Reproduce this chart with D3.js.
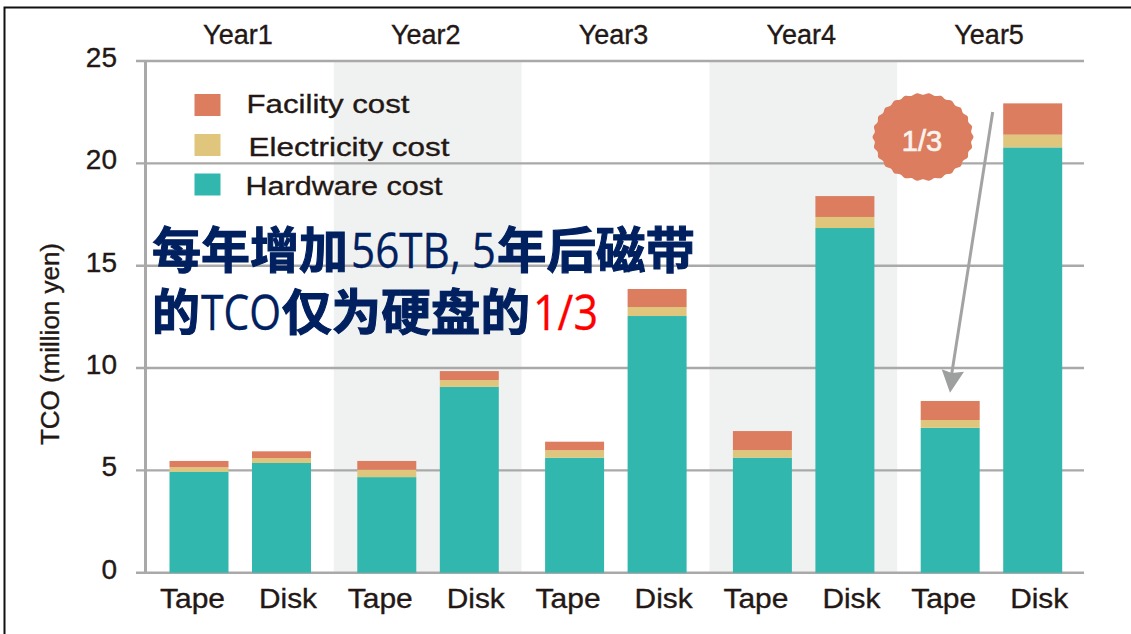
<!DOCTYPE html>
<html>
<head>
<meta charset="utf-8">
<script src="https://cdn.jsdelivr.net/npm/d3@7"></script>
<style>
  html, body { margin: 0; padding: 0; background: #fff; overflow: hidden; }
  text { font-family: "Liberation Sans", sans-serif; fill: #231815; stroke: #231815; stroke-width: 0.35px; }
</style>
</head>
<body>
<script>
const years = ["Year1", "Year2", "Year3", "Year4", "Year5"];
const media = ["Tape", "Disk"];
const shadedYears = ["Year2", "Year4"];
const yTicks = [0, 5, 10, 15, 20, 25];

// one entry per bar: Y1 tape, Y1 disk, Y2 tape ...
const hardware = [4.93, 5.36, 4.67, 9.08, 5.62, 12.54, 5.62, 16.84, 7.08, 20.78];
const electricity = [0.22, 0.24, 0.36, 0.33, 0.36, 0.44, 0.37, 0.54, 0.38, 0.62];
const facility = [0.31, 0.33, 0.43, 0.44, 0.42, 0.88, 0.93, 1.02, 0.93, 1.53];

const seriesNames = ["Hardware cost", "Electricity cost", "Facility cost"];
const seriesColors = ["#31b7ae", "#dfc67c", "#db7d5e"];

function main() {
    const canvasWidth = 1131;
    const canvasHeight = 634;

    const svg = d3.select("body").append("svg")
        .attr("width", canvasWidth)
        .attr("height", canvasHeight)
        .style("display", "block");

    // slide frame, only top and left show
    svg.append("path")
        .attr("d", "M4.5,634V7.5H1131")
        .attr("fill", "none")
        .attr("stroke", "#111")
        .attr("stroke-width", 2);

    const xYear = d3.scaleBand().domain(years).range([146, 1085]);
    const xMedia = d3.scaleBand().domain(media).range([23.5, 165]).paddingInner(0.285);
    const xLabel = d3.scalePoint().domain(media).range([46.5, 142]);
    const y = d3.scaleLinear().domain([0, 25]).range([572.7, 61]);

    const rows = [];
    years.forEach((year, i) => media.forEach((m, j) => {
        const k = i * 2 + j;
        rows.push({ year: year, media: m, hardware: hardware[k], electricity: electricity[k], facility: facility[k] });
    }));
    const stacked = d3.stack().keys(["hardware", "electricity", "facility"])(rows);

    // shaded year bands
    svg.append("g").selectAll("rect")
        .data(shadedYears)
        .enter()
        .append("rect")
        .attr("x", d => xYear(d))
        .attr("y", y(25))
        .attr("width", xYear.bandwidth())
        .attr("height", y(0) - y(25))
        .attr("fill", "#f0f2f1");

    // grid lines and y axis
    const yAxis = svg.append("g")
        .attr("transform", "translate(145,0)")
        .call(d3.axisLeft(y).tickValues(yTicks).tickSize(0).tickPadding(28));
    yAxis.select(".domain").attr("stroke", "#a9a9a9").attr("stroke-width", 3);
    yAxis.selectAll("text")
        .attr("font-size", 28)
        .attr("font-family", "Liberation Sans")
        .attr("fill", "#231815")
        .attr("dy", "0.2em");

    svg.append("g").selectAll("line")
        .data(yTicks)
        .enter()
        .append("line")
        .attr("x1", 136)
        .attr("x2", 1084)
        .attr("y1", d => y(d))
        .attr("y2", d => y(d))
        .attr("stroke", "#a9a9a9")
        .attr("stroke-width", 2.4);

    // stacked bars
    svg.append("g").selectAll("g")
        .data(stacked)
        .enter()
        .append("g")
        .attr("fill", (d, i) => seriesColors[i])
        .selectAll("rect")
        .data(d => d)
        .enter()
        .append("rect")
        .attr("x", d => xYear(d.data.year) + xMedia(d.data.media))
        .attr("y", d => y(d[1]))
        .attr("width", xMedia.bandwidth())
        .attr("height", d => y(d[0]) - y(d[1]));

    // year labels along the top
    const yearAxis = svg.append("g")
        .attr("transform", "translate(-2,44)")
        .call(d3.axisTop(xYear).tickSize(0).tickPadding(0));
    yearAxis.select(".domain").remove();
    yearAxis.selectAll("text")
        .attr("font-size", 27)
        .attr("font-family", "Liberation Sans")
        .attr("fill", "#231815")
        .attr("dy", 0);

    // Tape / Disk labels
    svg.append("g").selectAll("text")
        .data(rows)
        .enter()
        .append("text")
        .attr("x", d => xYear(d.year) + xLabel(d.media))
        .attr("y", 608)
        .attr("text-anchor", "middle")
        .attr("font-size", 28)
        .attr("textLength", d => d.media === "Tape" ? 65 : 58)
        .attr("lengthAdjust", "spacingAndGlyphs")
        .text(d => d.media);

    svg.append("text")
        .attr("transform", "translate(58.5,344) rotate(-90)")
        .attr("text-anchor", "middle")
        .attr("font-size", 26)
        .attr("textLength", 202)
        .attr("lengthAdjust", "spacingAndGlyphs")
        .text("TCO (million yen)");

    // legend
    const legendRows = [
        { name: seriesNames[2], color: seriesColors[2], boxY: 94, textX: 246.5, base: 113, len: 163 },
        { name: seriesNames[1], color: seriesColors[1], boxY: 134, textX: 248.5, base: 156, len: 201 },
        { name: seriesNames[0], color: seriesColors[0], boxY: 173.5, textX: 245.5, base: 195, len: 197 }
    ];
    const legend = svg.append("g");
    legend.selectAll("rect")
        .data(legendRows)
        .enter()
        .append("rect")
        .attr("x", 194.5)
        .attr("y", d => d.boxY)
        .attr("width", 26)
        .attr("height", 22)
        .attr("fill", d => d.color);
    legend.selectAll("text")
        .data(legendRows)
        .enter()
        .append("text")
        .attr("x", d => d.textX)
        .attr("y", d => d.base)
        .attr("font-size", 26.5)
        .attr("textLength", d => d.len)
        .attr("lengthAdjust", "spacingAndGlyphs")
        .text(d => d.name);

    // scalloped badge
    const bumps = 26;
    const badgePoints = d3.range(bumps * 2).map(i => {
        const a = i / (bumps * 2) * 2 * Math.PI;
        const r = i % 2 ? 0.96 : 1;
        return [Math.cos(a) * 50.5 * r, Math.sin(a) * 44 * r];
    });
    svg.append("path")
        .attr("transform", "translate(923,137)")
        .attr("d", d3.line().curve(d3.curveCatmullRomClosed)(badgePoints))
        .attr("fill", seriesColors[2]);
    svg.append("text")
        .attr("x", 922)
        .attr("y", 150.5)
        .attr("text-anchor", "middle")
        .attr("font-size", 29)
        .style("fill", "#fbf3ee")
        .style("stroke", "#fbf3ee")
        .style("stroke-width", "0.7px")
        .text("1/3");

    // arrow
    svg.append("line")
        .attr("x1", 992.7)
        .attr("y1", 112)
        .attr("x2", 951.7)
        .attr("y2", 374)
        .attr("stroke", "#a3a3a3")
        .attr("stroke-width", 3);
    svg.append("path")
        .attr("d", "M950,392.7L941.7,369.3L951.7,373L964,371.7Z")
        .attr("fill", "#9da09f");

    // slide heading pasted over the chart
    const cjk = "'Noto Sans CJK SC'";
    const latin = "'Open Sans'";
    const heading = [
        { t: "每年增加", x: 152, base: 268, len: 196, font: cjk, weight: 700, color: "#002060" },
        { t: "56TB, 5", x: 351, base: 268, len: 145, font: latin, weight: 400, color: "#002060" },
        { t: "年后磁带", x: 497, base: 268, len: 198, font: cjk, weight: 700, color: "#002060" },
        { t: "的", x: 152, base: 330, len: 48, font: cjk, weight: 700, color: "#002060" },
        { t: "TCO", x: 201, base: 330, len: 80, font: latin, weight: 400, color: "#002060" },
        { t: "仅为硬盘的", x: 282, base: 330, len: 248, font: cjk, weight: 700, color: "#002060" },
        { t: "1/3", x: 533, base: 330, len: 65, font: latin, weight: 400, color: "#ff0000" }
    ];
    svg.append("g").selectAll("text")
        .data(heading)
        .enter()
        .append("text")
        .attr("x", d => d.x)
        .attr("y", d => d.base)
        .attr("font-size", 49)
        .attr("font-weight", d => d.weight)
        .attr("textLength", d => d.len)
        .attr("lengthAdjust", "spacingAndGlyphs")
        .style("font-family", d => d.font)
        .style("fill", d => d.color)
        .style("stroke", d => d.color)
        .style("stroke-width", d => d.weight === 700 ? "1.1px" : "0.3px")
        .text(d => d.t);
}
main();
</script>
</body>
</html>
